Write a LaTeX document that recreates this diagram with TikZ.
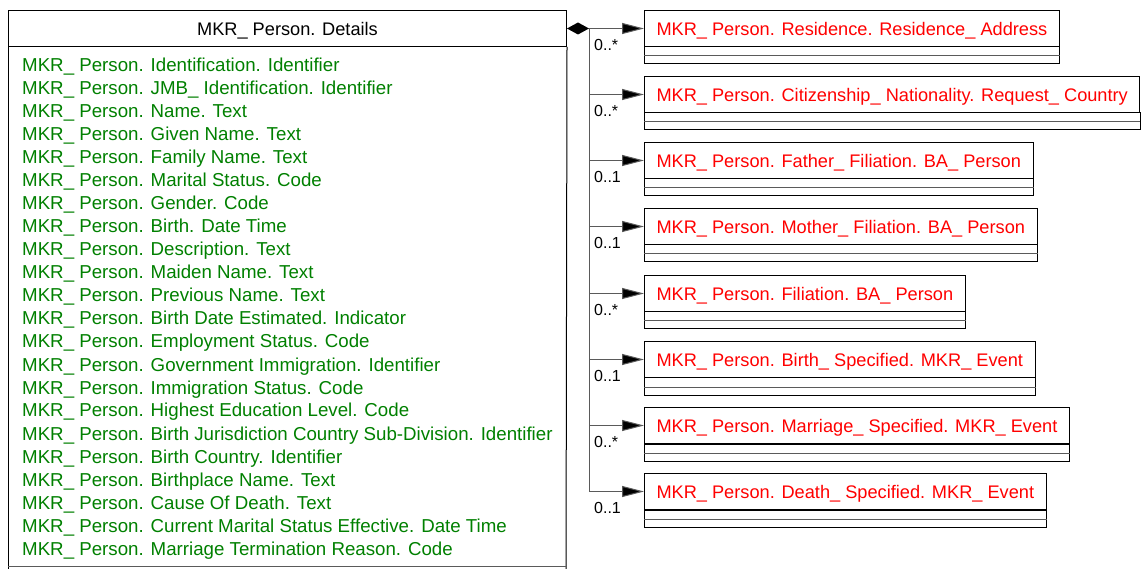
\documentclass[tikz,border=0pt]{standalone}
\usepackage{fontspec}
\setmainfont{Liberation Sans}
\usetikzlibrary{arrows.meta}
\definecolor{attrgreen}{HTML}{008000}
\definecolor{clsred}{HTML}{FF0000}
\definecolor{linegray}{HTML}{5A5A5A}
\begin{document}
\begin{tikzpicture}[x=1pt,y=-1pt,
  boxline/.style={draw=black,line width=1pt},
  sepline/.style={draw=linegray,line width=1pt},
  hdr/.style={draw=black,line width=1pt,minimum height=36pt,inner xsep=12pt,inner ysep=0pt,
    text height=14pt,text depth=0pt,font=\fontsize{18.2}{23}\selectfont},
  cls/.style={hdr,text=clsred},
  attr/.style={inner sep=0pt,text=attrgreen,font=\fontsize{18.7}{23}\selectfont},
  mult/.style={inner sep=0pt,font=\fontsize{16}{18}\selectfont},
  conn/.style={draw=linegray,line width=1pt,-{Triangle[length=22pt,width=11pt,fill=black]}}]
\useasboundingbox (0,0) rectangle (1141,569);
% main class
\node[hdr,minimum width=558pt,anchor=north west] (main) at (8,10) {MKR\_ Person. Details};
\draw[boxline] (main.south west) -- (8,580);
\draw[boxline] (main.south east) -- (566,580);
\draw[sepline] (8,566) -- (566,566);
\foreach \t [count=\i] in {
 MKR\_ Person. Identification. Identifier,
 MKR\_ Person. JMB\_ Identification. Identifier,
 MKR\_ Person. Name. Text,
 MKR\_ Person. Given Name. Text,
 MKR\_ Person. Family Name. Text,
 MKR\_ Person. Marital Status. Code,
 MKR\_ Person. Gender. Code,
 MKR\_ Person. Birth. Date Time,
 MKR\_ Person. Description. Text,
 MKR\_ Person. Maiden Name. Text,
 MKR\_ Person. Previous Name. Text,
 MKR\_ Person. Birth Date Estimated. Indicator,
 MKR\_ Person. Employment Status. Code,
 MKR\_ Person. Government Immigration. Identifier,
 MKR\_ Person. Immigration Status. Code,
 MKR\_ Person. Highest Education Level. Code,
 MKR\_ Person. Birth Jurisdiction Country Sub-Division. Identifier,
 MKR\_ Person. Birth Country. Identifier,
 MKR\_ Person. Birthplace Name. Text,
 MKR\_ Person. Cause Of Death. Text,
 MKR\_ Person. Current Marital Status Effective. Date Time,
 MKR\_ Person. Marriage Termination Reason. Code}
 \node[attr,anchor=base west] (a\i) at (22,{49+23*\i}) {\t};
% aggregation diamond
\fill[black] (main.east) -- ++(11,-6) -- ++(11,6) -- ++(-11,6) -- cycle;
\coordinate (dtip) at ([xshift=22.5pt]main.east);
% associated classes
\foreach \tp/\txt/\mul [count=\i] in {
 10/{MKR\_ Person. Residence. Residence\_ Address}/{0..*},
 76/{MKR\_ Person. Citizenship\_ Nationality. Request\_ Country}/{0..*},
 142/{MKR\_ Person. Father\_ Filiation. BA\_ Person}/{0..1},
 208/{MKR\_ Person. Mother\_ Filiation. BA\_ Person}/{0..1},
 275/{MKR\_ Person. Filiation. BA\_ Person}/{0..*},
 341/{MKR\_ Person. Birth\_ Specified. MKR\_ Event}/{0..1},
 407/{MKR\_ Person. Marriage\_ Specified. MKR\_ Event}/{0..*},
 473/{MKR\_ Person. Death\_ Specified. MKR\_ Event}/{0..1}}
{
 \node[cls,anchor=north west] (r\i) at (644,\tp) {\txt};
 \draw[boxline] (r\i.south west) rectangle ([yshift=-17pt]r\i.south east);
 \draw[sepline] ([yshift=-9pt]r\i.south west) -- ([yshift=-9pt]r\i.south east);
 \draw[conn] (dtip) |- (r\i.west);
 \node[mult,anchor=west] (m\i) at (594,{\tp+35}) {\mul};
}
\end{tikzpicture}
\end{document}
